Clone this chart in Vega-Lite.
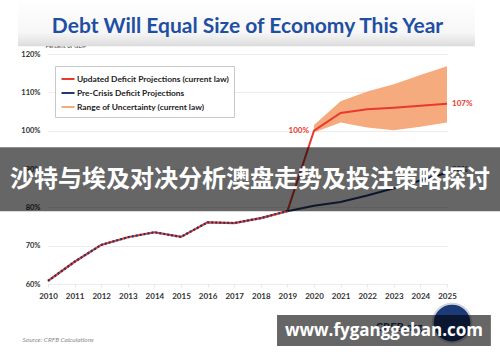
{
  "$schema": "https://vega.github.io/schema/vega-lite/v6.json",
  "width": 399,
  "height": 230,
  "autosize": "none",
  "padding": {"left": 48, "top": 54, "right": 53, "bottom": 78},
  "background": "white",
  "title": {
    "text": "Debt Will Equal Size of Economy This Year",
    "font": "Lato",
    "fontSize": 21,
    "fontWeight": "bold",
    "color": "#1f4fa3",
    "anchor": "middle",
    "frame": "group",
    "baseline": "alphabetic",
    "offset": -54
  },
  "config": {
    "view": {"stroke": null},
    "font": "Lato",
    "axis": {"labelOverlap": false}
  },
  "datasets": {
    "hist": [
      {"year": 2010, "value": 60.8},
      {"year": 2011, "value": 65.8},
      {"year": 2012, "value": 70.2},
      {"year": 2013, "value": 72.2},
      {"year": 2014, "value": 73.5},
      {"year": 2015, "value": 72.3},
      {"year": 2016, "value": 76.1},
      {"year": 2017, "value": 75.9},
      {"year": 2018, "value": 77.2},
      {"year": 2019, "value": 79.0}
    ],
    "proj": [
      {"year": 2019, "value": 79.0, "series": "Updated Deficit Projections (current law)"},
      {"year": 2020, "value": 100.0, "series": "Updated Deficit Projections (current law)"},
      {"year": 2021, "value": 104.6, "series": "Updated Deficit Projections (current law)"},
      {"year": 2022, "value": 105.6, "series": "Updated Deficit Projections (current law)"},
      {"year": 2023, "value": 106.0, "series": "Updated Deficit Projections (current law)"},
      {"year": 2024, "value": 106.5, "series": "Updated Deficit Projections (current law)"},
      {"year": 2025, "value": 107.0, "series": "Updated Deficit Projections (current law)"},
      {"year": 2019, "value": 79.0, "series": "Pre-Crisis Deficit Projections"},
      {"year": 2020, "value": 80.4, "series": "Pre-Crisis Deficit Projections"},
      {"year": 2021, "value": 81.4, "series": "Pre-Crisis Deficit Projections"},
      {"year": 2022, "value": 83.1, "series": "Pre-Crisis Deficit Projections"},
      {"year": 2023, "value": 85.0, "series": "Pre-Crisis Deficit Projections"},
      {"year": 2024, "value": 87.0, "series": "Pre-Crisis Deficit Projections"},
      {"year": 2025, "value": 89.0, "series": "Pre-Crisis Deficit Projections"}
    ],
    "band": [
      {"year": 2020, "low": 99.5, "high": 101.5, "series": "Range of Uncertainty (current law)"},
      {"year": 2021, "low": 102.1, "high": 107.7, "series": "Range of Uncertainty (current law)"},
      {"year": 2022, "low": 100.8, "high": 110.2, "series": "Range of Uncertainty (current law)"},
      {"year": 2023, "low": 100.1, "high": 112.1, "series": "Range of Uncertainty (current law)"},
      {"year": 2024, "low": 101.0, "high": 114.5, "series": "Range of Uncertainty (current law)"},
      {"year": 2025, "low": 102.1, "high": 116.8, "series": "Range of Uncertainty (current law)"}
    ],
    "labels": [
      {"year": 2020, "value": 100.0, "label": "100%", "side": "left", "kind": "red"},
      {"year": 2025, "value": 107.0, "label": "107%", "side": "right", "kind": "red"},
      {"year": 2025, "value": 89.8, "label": "90%", "side": "right", "kind": "blue"}
    ],
    "header": [
      {"x1": 2008.87, "x2": 2026.05, "y1": 134.1, "y2": 122.0}
    ],
    "banner": [
      {"x1": 2008.1, "x2": 2027.1, "y1": 95.7, "y2": 79.0, "tx": 2017.59, "ty": 87.1, "text": "沙特与埃及对决分析澳盘走势及投注策略探讨"}
    ],
    "logo": [
      {"x": 2025.19, "y": 49.8, "cx": 2023.2, "cy": 48.5, "text": "CRFB.org"}
    ],
    "watermark": [
      {"x1": 2018.61, "x2": 2026.65, "y1": 51.9, "y2": 43.8, "tx": 2022.63, "ty": 47.7, "text": "www.fyganggeban.com"}
    ]
  },
  "layer": [
    {
      "data": {"name": "header"},
      "mark": {
        "type": "rect",
        "color": {
          "gradient": "linear", "x1": 0, "y1": 0, "x2": 0, "y2": 1,
          "stops": [
            {"offset": 0, "color": "#ffffff"},
            {"offset": 0.7, "color": "#f7f7f7"},
            {"offset": 1, "color": "#dcdcdc"}
          ]
        }
      },
      "encoding": {
        "x": {
          "field": "x1", "type": "quantitative",
          "scale": {"domain": [2010, 2025], "nice": false, "zero": false},
          "axis": {
            "values": [2010, 2011, 2012, 2013, 2014, 2015, 2016, 2017, 2018, 2019, 2020, 2021, 2022, 2023, 2024, 2025],
            "tickCount": 30,
            "format": "d",
            "grid": false,
            "domain": false,
            "ticks": true,
            "tickSize": 3,
            "tickColor": "#e6e6e6",
            "labelFont": "Lato",
            "labelFontSize": 8,
            "labelFontWeight": "bold",
            "labelColor": "#333",
            "labelPadding": 5,
            "labelFlush": false,
            "labelOverlap": false,
            "title": "Source: CRFB Calculations",
            "titleFont": "Lato",
            "titleFontSize": 6.5,
            "titleFontStyle": "italic",
            "titleFontWeight": "normal",
            "titleColor": "#8a8a8a",
            "titleAnchor": "start",
            "titleAlign": "left",
            "titleBaseline": "middle",
            "titleX": -26,
            "titleY": 55
          }
        },
        "x2": {"field": "x2"},
        "y": {
          "field": "y1", "type": "quantitative",
          "scale": {"domain": [60, 120], "nice": false, "zero": false},
          "axis": {
            "values": [60, 70, 80, 90, 100, 110, 120],
            "tickCount": 20,
            "labelExpr": "datum.value + '%'",
            "grid": true,
            "gridColor": "#ececec",
            "gridWidth": 1,
            "domain": false,
            "ticks": false,
            "labelFont": "Lato",
            "labelFontSize": 7.5,
            "labelFontWeight": "bold",
            "labelColor": "#333",
            "labelPadding": 8,
            "labelOverlap": false,
            "title": "Percent of GDP",
            "titleFont": "Lato",
            "titleFontSize": 6,
            "titleFontWeight": "normal",
            "titleColor": "#333",
            "titleAngle": 0,
            "titleAlign": "left",
            "titleBaseline": "middle",
            "titleX": -3,
            "titleY": -9
          }
        },
        "y2": {"field": "y2"}
      }
    },
    {
      "data": {"name": "band"},
      "mark": {"type": "area", "opacity": 1},
      "encoding": {
        "x": {"field": "year", "type": "quantitative"},
        "y": {"field": "low", "type": "quantitative"},
        "y2": {"field": "high"},
        "color": {
          "field": "series", "type": "nominal",
          "scale": {
            "domain": ["Updated Deficit Projections (current law)", "Pre-Crisis Deficit Projections", "Range of Uncertainty (current law)"],
            "range": ["#e8392d", "#1f3a6e", "#f6ab7e"]
          },
          "legend": {
            "orient": "none",
            "legendX": 7,
            "legendY": 12,
            "title": null,
            "symbolType": "stroke",
            "symbolSize": 170,
            "symbolStrokeWidth": 2,
            "labelFont": "Lato",
            "labelFontSize": 8.4,
            "labelFontWeight": "bold",
            "labelColor": "#222",
            "labelOffset": 1,
            "labelLimit": 300,
            "padding": 5,
            "rowPadding": 1,
            "strokeColor": "#c8c8c8",
            "fillColor": "white",
            "encode": {
              "symbols": {
                "update": {
                  "strokeWidth": {"signal": "indexof(datum.label, 'Range') >= 0 ? 6 : 2"},
                  "stroke": {"scale": "color", "field": "value"}
                }
              }
            }
          }
        }
      }
    },
    {
      "data": {"name": "hist"},
      "mark": {"type": "line", "color": "#e8392d", "strokeWidth": 2.2},
      "encoding": {
        "x": {"field": "year", "type": "quantitative"},
        "y": {"field": "value", "type": "quantitative"}
      }
    },
    {
      "data": {"name": "hist"},
      "mark": {"type": "line", "color": "#1f3a6e", "strokeWidth": 2.2, "strokeDash": [2, 2]},
      "encoding": {
        "x": {"field": "year", "type": "quantitative"},
        "y": {"field": "value", "type": "quantitative"}
      }
    },
    {
      "data": {"name": "proj"},
      "mark": {"type": "line", "strokeWidth": 2},
      "encoding": {
        "x": {"field": "year", "type": "quantitative"},
        "y": {"field": "value", "type": "quantitative"},
        "color": {"field": "series", "type": "nominal"},
        "detail": {"field": "series"}
      }
    },
    {
      "data": {"name": "labels"},
      "transform": [{"filter": "datum.side === 'left'"}],
      "mark": {"type": "text", "font": "Lato", "fontSize": 8, "fontWeight": "bold", "baseline": "middle", "align": "right", "dx": -5, "color": "#e8392d"},
      "encoding": {
        "x": {"field": "year", "type": "quantitative"},
        "y": {"field": "value", "type": "quantitative"},
        "text": {"field": "label"}
      }
    },
    {
      "data": {"name": "labels"},
      "transform": [{"filter": "datum.side === 'right'"}],
      "mark": {"type": "text", "font": "Lato", "fontSize": 8, "fontWeight": "bold", "baseline": "middle", "align": "left", "dx": 5},
      "encoding": {
        "x": {"field": "year", "type": "quantitative"},
        "y": {"field": "value", "type": "quantitative"},
        "text": {"field": "label"},
        "color": {"condition": {"test": "datum.kind === 'red'", "value": "#e8392d"}, "value": "#1f3a6e"}
      }
    },
    {
      "data": {"name": "banner"},
      "mark": {"type": "rect", "color": "#000000", "opacity": 0.6},
      "encoding": {
        "x": {"field": "x1", "type": "quantitative"},
        "x2": {"field": "x2"},
        "y": {"field": "y1", "type": "quantitative"},
        "y2": {"field": "y2"}
      }
    },
    {
      "data": {"name": "banner"},
      "mark": {"type": "text", "font": "Noto Sans CJK SC", "fontSize": 24, "fontWeight": "bold", "color": "white", "align": "center", "baseline": "middle"},
      "encoding": {
        "x": {"field": "tx", "type": "quantitative"},
        "y": {"field": "ty", "type": "quantitative"},
        "text": {"field": "text"}
      }
    },
    {
      "data": {"name": "logo"},
      "mark": {"type": "point", "shape": "circle", "filled": true, "color": "#1c3a78", "size": 1500, "stroke": "#d0d4dc", "strokeWidth": 2, "opacity": 1},
      "encoding": {
        "x": {"field": "x", "type": "quantitative"},
        "y": {"field": "y", "type": "quantitative"}
      }
    },
    {
      "data": {"name": "logo"},
      "mark": {"type": "text", "font": "Lato", "fontSize": 11, "fontWeight": "bold", "color": "#1c3a78", "align": "center", "baseline": "middle"},
      "encoding": {
        "x": {"field": "cx", "type": "quantitative"},
        "y": {"field": "cy", "type": "quantitative"},
        "text": {"field": "text"}
      }
    },
    {
      "data": {"name": "watermark"},
      "mark": {"type": "rect", "color": "#000000", "opacity": 0.6},
      "encoding": {
        "x": {"field": "x1", "type": "quantitative"},
        "x2": {"field": "x2"},
        "y": {"field": "y1", "type": "quantitative"},
        "y2": {"field": "y2"}
      }
    },
    {
      "data": {"name": "watermark"},
      "mark": {"type": "text", "font": "Open Sans", "fontSize": 17, "fontWeight": "bold", "color": "white", "align": "center", "baseline": "middle"},
      "encoding": {
        "x": {"field": "tx", "type": "quantitative"},
        "y": {"field": "ty", "type": "quantitative"},
        "text": {"field": "text"}
      }
    }
  ]
}
